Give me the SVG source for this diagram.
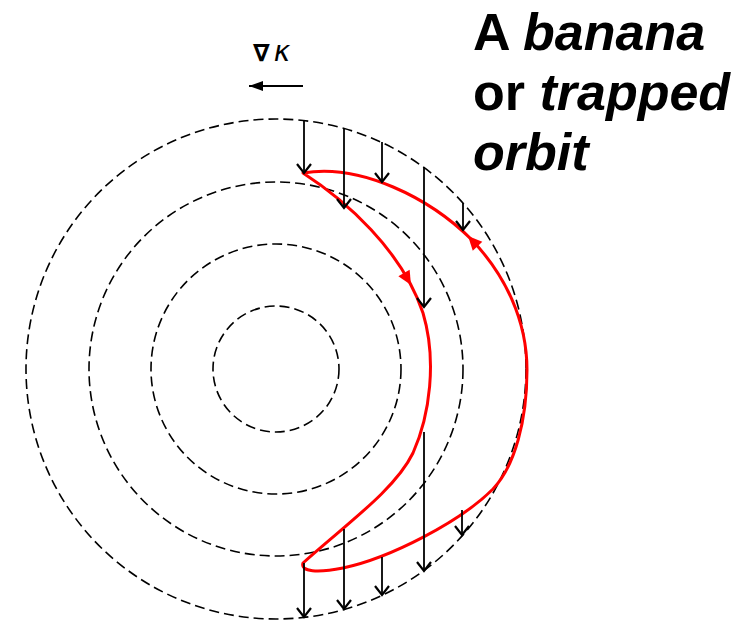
<svg xmlns="http://www.w3.org/2000/svg" width="755" height="622" viewBox="0 0 755 622">
<style>
.ring{fill:none;stroke:#000;stroke-width:1.6;stroke-dasharray:10 5}
.drift{fill:none;stroke:#000;stroke-width:1.8;marker-end:url(#vee)}
.orbit{fill:none;stroke:#ff0000;stroke-width:3;stroke-linejoin:round}
.redhead{fill:#ff0000}
.title{font-family:"Liberation Sans",Arial,sans-serif;font-weight:bold;font-size:52px;fill:#000}
.grad{font-family:"DejaVu Sans","Liberation Sans",sans-serif;fill:#000}
</style>
<defs>
<marker id="vee" markerUnits="userSpaceOnUse" markerWidth="24" markerHeight="24" viewBox="-12 -12 24 24" refX="0" refY="0" orient="auto" overflow="visible">
<path d="M -9,-7 L 0,0 L -9,7" fill="none" stroke="#000" stroke-width="2.2"/>
</marker>
<marker id="solid" markerUnits="userSpaceOnUse" markerWidth="20" markerHeight="20" viewBox="-10 -10 20 20" refX="0" refY="0" orient="auto" overflow="visible">
<path d="M 0,0 L -14,-5 L -14,5 Z" fill="#000"/>
</marker>
<path id="rh" d="M 0,0 L -14,-6.5 L -14,6.5 Z"/>
</defs>
<rect width="755" height="622" fill="#fff"/>

<g id="flux-surfaces">
<circle class="ring" cx="276" cy="369" r="63"/>
<circle class="ring" cx="276" cy="369" r="125"/>
<circle class="ring" cx="276" cy="369" r="187"/>
<circle class="ring" cx="276" cy="369" r="250"/>
</g>

<g id="grad-label">
<text class="grad" x="253" y="61" font-size="24" font-weight="bold">∇<tspan font-weight="normal" dx="4" font-style="italic" font-size="28">κ</tspan></text>
<line x1="303" y1="86" x2="249" y2="86" stroke="#000" stroke-width="2" marker-end="url(#solid)"/>
</g>

<g id="banana-orbit">
<path class="orbit" d="M 303,173 C 345,200 402,250 423,313 C 437,360 430,415 413,453 C 395,490 345,525 303,563 C 300,572 318,573 343,568 C 390,558 460,522 493,489 C 515,466 527,420 527,370 C 527,320 505,275 472,240 C 430,198 360,163 303,173 Z"/>
<use href="#rh" class="redhead" transform="translate(411,285) rotate(60)"/>
<use href="#rh" class="redhead" transform="translate(468,236) rotate(-133)"/>
</g>

<g id="connectors">
<line class="drift" x1="304" y1="120" x2="304" y2="173"/>
<line class="drift" x1="344" y1="128" x2="344" y2="208"/>
<line class="drift" x1="382" y1="142" x2="382" y2="182"/>
<line class="drift" x1="424" y1="167" x2="424" y2="307"/>
<line class="drift" x1="463" y1="203" x2="463" y2="230"/>
<line class="drift" x1="304" y1="563" x2="304" y2="617"/>
<line class="drift" x1="344" y1="529" x2="344" y2="609"/>
<line class="drift" x1="382" y1="557" x2="382" y2="595"/>
<line class="drift" x1="424" y1="432" x2="424" y2="571"/>
<line class="drift" x1="462" y1="510" x2="462" y2="535"/>
</g>

<g id="caption">
<text class="title" x="473" y="50">A <tspan font-style="italic">banana</tspan></text>
<text class="title" x="473" y="110">or <tspan font-style="italic">trapped</tspan></text>
<text class="title" x="473" y="170" font-style="italic">orbit</text>
</g>
</svg>
